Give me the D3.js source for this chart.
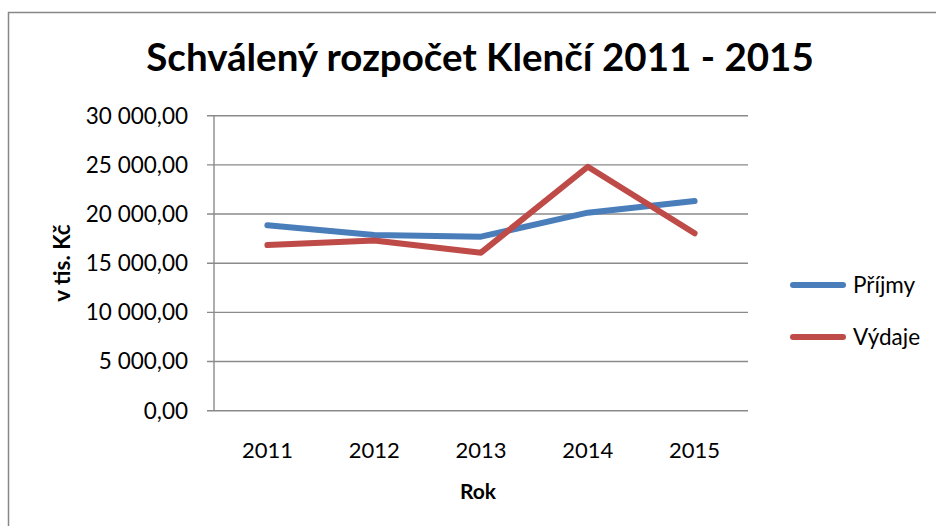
<!DOCTYPE html>
<html><head><meta charset="utf-8">
<script src="https://cdn.jsdelivr.net/npm/d3@7"></script>
<style>html,body{margin:0;padding:0;background:#fff;}svg{display:block;}</style>
</head><body>
<script>
const years = ["2011","2012","2013","2014","2015"];
const prijmy = [18850, 17870, 17700, 20140, 21330];
const vydaje = [16850, 17300, 16070, 24810, 18040];
const yTicks = [0, 5000, 10000, 15000, 20000, 25000, 30000];
const seriesNames = ["Příjmy", "Výdaje"];
const seriesColors = ["#4A7EBB", "#BE4B48"];
const titleText = "Schválený rozpočet Klenčí 2011 - 2015";
const yTitle = "v tis. Kč";
const xTitle = "Rok";

(function(){
const W = 936, H = 526;
const font = "Lato, 'Open Sans', sans-serif";
const svg = d3.select("body").append("svg").attr("width", W).attr("height", H);

svg.append("path").attr("d", `M8.5,${H+2} V12.5 H${W+2}`).attr("fill","none").attr("stroke","#888").attr("stroke-width",1.5);

const pL = 214, pR = 748, pT = 115.7, pB = 410.7;
const x = d3.scaleBand().domain(years).range([pL, pR]);
const y = d3.scaleLinear().domain([0, 30000]).range([pB, pT]);

const fmt = v => {
  const s = d3.format(",.2f")(v);
  return s.replace(/,/g, " ").replace(".", ",");
};

svg.append("g").selectAll("line").data(yTicks).join("line")
  .attr("x1", pL - 7).attr("x2", pR)
  .attr("y1", d => y(d)).attr("y2", d => y(d))
  .attr("stroke", "#8a8a8a").attr("stroke-width", 1.4);

svg.append("line").attr("x1", pL).attr("x2", pL).attr("y1", pT).attr("y2", pB)
  .attr("stroke", "#8a8a8a").attr("stroke-width", 1.4);

svg.append("g").selectAll("text").data(yTicks).join("text")
  .attr("x", 188).attr("y", d => y(d)).attr("dy", "0.35em")
  .attr("text-anchor", "end").attr("font-family", font).attr("font-size", 22.5)
  .attr("fill", "#000").text(fmt);

svg.append("g").selectAll("text").data(years).join("text")
  .attr("x", d => x(d) + x.bandwidth()/2).attr("y", 450).attr("dy", "0.35em")
  .attr("text-anchor", "middle").attr("font-family", font).attr("font-size", 22)
  .attr("fill", "#000").text(d => d);

svg.append("text").attr("x", 478).attr("y", 492).attr("dy", "0.35em")
  .attr("text-anchor", "middle").attr("font-family", font).attr("font-weight", "bold")
  .attr("font-size", 21).text(xTitle);
svg.append("text").attr("transform", "translate(62,263) rotate(-90)").attr("dy", "0.35em")
  .attr("text-anchor", "middle").attr("font-family", font).attr("font-weight", "bold")
  .attr("font-size", 22.5).text(yTitle);

svg.append("text").attr("x", 480).attr("y", 58).attr("dy", "0.35em")
  .attr("text-anchor", "middle").attr("font-family", font).attr("font-weight", "bold")
  .attr("font-size", 38.5).text(titleText);

const line = d3.line().x((d, i) => x(years[i]) + x.bandwidth()/2).y(d => y(d));
[prijmy, vydaje].forEach((data, k) => {
  svg.append("path").datum(data).attr("d", line).attr("fill", "none")
    .attr("stroke", seriesColors[k]).attr("stroke-width", 6)
    .attr("stroke-linecap", "round").attr("stroke-linejoin", "round");
});

const legY = [285, 337];
seriesNames.forEach((n, k) => {
  svg.append("line").attr("x1", 793).attr("x2", 843).attr("y1", legY[k]).attr("y2", legY[k])
    .attr("stroke", seriesColors[k]).attr("stroke-width", 6).attr("stroke-linecap", "round");
  svg.append("text").attr("x", 853).attr("y", legY[k]).attr("dy", "0.35em")
    .attr("font-family", font).attr("font-size", 22.5).text(n);
});
})();
</script>
</body></html>
